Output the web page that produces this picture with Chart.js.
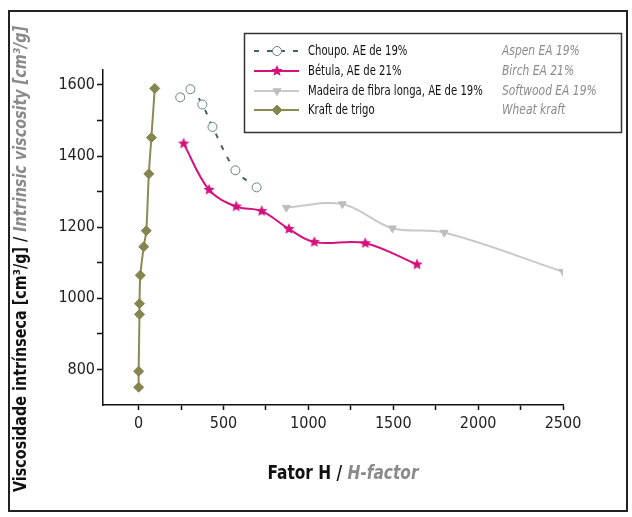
<!DOCTYPE html>
<html>
<head>
<meta charset="utf-8">
<script src="https://cdn.jsdelivr.net/npm/chart.js@4.4.1/dist/chart.umd.min.js"></script>
<style>
  html, body { margin: 0; padding: 0; background: #fff; }
  #wrap { width: 632px; height: 517px; position: relative; }
</style>
</head>
<body>
<div id="wrap"><canvas id="chart" width="632" height="517"></canvas></div>
<script>
// Fator H (x) and intrinsic viscosity (y)
var aspenH = [245, 305, 375, 435, 570, 695];
var aspenV = [1565, 1588, 1545, 1482, 1360, 1312];
var birchH = [265, 415, 575, 725, 885, 1035, 1335, 1640];
var birchV = [1435, 1305, 1258, 1245, 1195, 1158, 1155, 1095];
var softH = [870, 1200, 1495, 1800, 2500];
var softV = [1255, 1265, 1197, 1185, 1075];
var wheatH = [0, 0, 5, 5, 10, 30, 45, 60, 75, 95];
var wheatV = [750, 795, 955, 985, 1065, 1145, 1190, 1350, 1452, 1590];

var xTicks = [0, 250, 500, 750, 1000, 1250, 1500, 1750, 2000, 2250, 2500];
var yTicks = [800, 900, 1000, 1100, 1200, 1300, 1400, 1500, 1600];

var labelsPT = ['Choupo. AE de 19%', 'Bétula, AE de 21%', 'Madeira de fibra longa, AE de 19%', 'Kraft de trigo'];
var labelsEN = ['Aspen EA 19%', 'Birch EA 21%', 'Softwood EA 19%', 'Wheat kraft'];

var narrow = "'Liberation Sans Narrow', 'DejaVu Sans Condensed', 'Arial Narrow', sans-serif";

function pts(xs, ys) {
    return xs.map(function (x, i) { return { x: x, y: ys[i] }; });
}

function starImage(color, r) {
    var c = document.createElement('canvas');
    c.width = c.height = r * 2 + 2;
    var g = c.getContext('2d');
    g.fillStyle = color;
    g.beginPath();
    for (var i = 0; i < 10; i++) {
        var rr = i % 2 ? r * 0.45 : r;
        var a = -Math.PI / 2 + i * Math.PI / 5;
        g.lineTo(r + 1 + rr * Math.cos(a), r + 1 + rr * Math.sin(a));
    }
    g.closePath();
    g.fill();
    return c;
}

// squeeze text sideways, the original uses a condensed face
function squeezed(ctx, text, x, y, sx) {
    ctx.save();
    ctx.translate(x, y);
    ctx.scale(sx, 1);
    ctx.fillText(text, 0, 0);
    ctx.restore();
    return ctx.measureText(text).width * sx;
}

var magenta = '#d4127e';
var star = starImage(magenta, 6);

var extras = {
    id: 'extras',
    afterDraw: function (chart) {
        var ctx = chart.ctx;
        ctx.save();
        // frame
        ctx.strokeStyle = '#222';
        ctx.lineWidth = 2;
        ctx.strokeRect(9, 11, 618, 500);

        // y title
        ctx.translate(22, 259);
        ctx.rotate(-Math.PI / 2);
        ctx.textBaseline = 'middle';
        ctx.textAlign = 'left';
        var f1 = 'bold 17px ' + narrow, f2 = 'italic bold 17px ' + narrow;
        var p1 = 'Viscosidade intrínseca [cm³/g] / ', p2 = 'Intrinsic viscosity [cm³/g]';
        ctx.font = f1; var w1 = ctx.measureText(p1).width;
        ctx.font = f2; var w2 = ctx.measureText(p2).width;
        var k = 466 / (w1 + w2);
        var sx = -233;
        ctx.font = f1; ctx.fillStyle = '#111';
        squeezed(ctx, p1, sx, 0, k);
        ctx.font = f2; ctx.fillStyle = '#8a8a8a';
        squeezed(ctx, p2, sx + w1 * k, 0, k);
        ctx.setTransform(1, 0, 0, 1, 0, 0);

        // x title
        var q1 = 'Fator H / ', q2 = 'H-factor';
        var g1 = 'bold 19px ' + narrow, g2 = 'italic bold 19px ' + narrow;
        ctx.font = g1; var v1 = ctx.measureText(q1).width;
        ctx.font = g2; var v2 = ctx.measureText(q2).width;
        var kx = 151 / (v1 + v2);
        var tx = 343 - 75.5;
        ctx.font = g1; ctx.fillStyle = '#111';
        squeezed(ctx, q1, tx, 474, kx);
        ctx.font = g2; ctx.fillStyle = '#8a8a8a';
        squeezed(ctx, q2, tx + v1 * kx, 474, kx);

        // legend
        ctx.fillStyle = '#fff';
        ctx.fillRect(244, 33, 378, 100);
        ctx.strokeStyle = '#333';
        ctx.lineWidth = 1.5;
        ctx.strokeRect(244.5, 33.5, 377, 99);
        var rows = [51, 71, 91, 110];
        var ds = chart.data.datasets;
        rows.forEach(function (y, i) {
            var d = ds[i];
            ctx.save();
            ctx.strokeStyle = d.borderColor;
            ctx.lineWidth = 2;
            if (d.borderDash) ctx.setLineDash(d.borderDash);
            ctx.beginPath();
            ctx.moveTo(254, y); ctx.lineTo(299, y);
            ctx.stroke();
            ctx.restore();
            if (d.pointStyle === star) {
                ctx.drawImage(star, 277 - star.width / 2, y - star.height / 2);
            } else {
                ctx.fillStyle = d.pointBackgroundColor;
                ctx.strokeStyle = d.pointBorderColor;
                ctx.lineWidth = d.pointBorderWidth;
                Chart.helpers.drawPoint(ctx, {
                    pointStyle: d.pointStyle, radius: d.pointRadius, rotation: d.pointRotation || 0,
                    borderWidth: d.pointBorderWidth
                }, 277, y);
            }
            ctx.textBaseline = 'middle';
            ctx.textAlign = 'left';
            ctx.font = '14px ' + narrow;
            ctx.fillStyle = '#111';
            squeezed(ctx, labelsPT[i], 308, y, 0.8);
            ctx.font = 'italic 14px ' + narrow;
            ctx.fillStyle = '#8a8a8a';
            squeezed(ctx, labelsEN[i], 502, y, 0.85);
        });
        ctx.restore();
    }
};

var ctx = document.getElementById('chart').getContext('2d');
var myChart = new Chart(ctx, {
    type: 'scatter',
    data: {
        datasets: [{
            label: labelsPT[0],
            data: pts(aspenH, aspenV),
            showLine: true,
            tension: 0.35,
            borderColor: '#46625f',
            borderWidth: 2,
            borderDash: [5, 8],
            pointStyle: 'circle',
            pointRadius: 4.5,
            pointBorderWidth: 1,
            pointBorderColor: '#6d7f7f',
            pointBackgroundColor: '#fff'
        }, {
            label: labelsPT[1],
            data: pts(birchH, birchV),
            showLine: true,
            tension: 0.35,
            borderColor: magenta,
            borderWidth: 2,
            pointStyle: star,
            pointRadius: 6
        }, {
            label: labelsPT[2],
            data: pts(softH, softV),
            showLine: true,
            tension: 0.35,
            borderColor: '#c9c9c9',
            borderWidth: 2,
            pointStyle: 'triangle',
            pointRotation: 180,
            pointRadius: 4.5,
            pointBorderWidth: 1,
            pointBorderColor: '#bdbdbd',
            pointBackgroundColor: '#bdbdbd'
        }, {
            label: labelsPT[3],
            data: pts(wheatH, wheatV),
            showLine: true,
            tension: 0.3,
            borderColor: '#8b8a55',
            borderWidth: 2,
            pointStyle: 'rectRot',
            pointRadius: 5,
            pointBorderWidth: 1,
            pointBorderColor: '#86854f',
            pointBackgroundColor: '#86854f'
        }]
    },
    options: {
        responsive: false,
        animation: false,
        layout: { padding: { left: 0, top: 70, right: 69, bottom: 0 } },
        plugins: { legend: { display: false }, tooltip: { enabled: false } },
        scales: {
            x: {
                type: 'linear',
                min: -210,
                max: 2500,
                afterBuildTicks: function (s) { s.ticks = xTicks.map(function (v) { return { value: v }; }); },
                afterFit: function (s) { s.height = 112; },
                grid: { drawOnChartArea: false, tickLength: 5, tickWidth: 1.5, color: '#111' },
                border: { color: '#111', width: 1.5 },
                ticks: {
                    autoSkip: false,
                    maxRotation: 0,
                    padding: 4,
                    color: '#222',
                    font: { family: narrow, size: 16 },
                    callback: function (v) { return v % 500 === 0 ? String(v) : ''; }
                }
            },
            y: {
                min: 700,
                max: 1642,
                afterBuildTicks: function (s) { s.ticks = yTicks.map(function (v) { return { value: v }; }); },
                afterFit: function (s) { s.width = 103; },
                grid: { drawOnChartArea: false, tickLength: 6, tickWidth: 1.5, color: '#111' },
                border: { color: '#111', width: 1.5 },
                ticks: {
                    autoSkip: false,
                    padding: 2,
                    color: '#222',
                    font: { family: narrow, size: 16 },
                    callback: function (v) { return v % 200 === 0 ? String(v) : ''; }
                }
            }
        }
    },
    plugins: [extras]
});
</script>
</body>
</html>
